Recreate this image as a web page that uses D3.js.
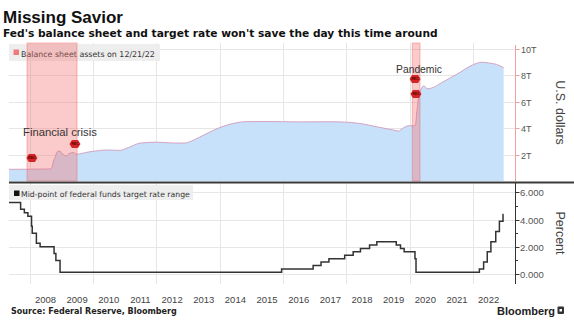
<!DOCTYPE html>
<html><head><meta charset="utf-8">
<script src="https://cdn.jsdelivr.net/npm/d3@7"></script>
<style>body{margin:0;background:#fff} svg{display:block}</style>
</head><body><svg id="c" width="574" height="331"></svg>
<script>
// ---------- DATA ----------
const balanceDates = ["2007-05-07","2008-01-02","2008-09-03","2008-09-17","2008-10-01","2008-10-22","2008-11-12","2008-12-17","2009-01-07","2009-01-21","2009-02-18","2009-03-11","2009-04-08","2009-05-20","2009-06-24","2009-08-05","2009-10-07","2009-12-30","2010-03-31","2010-06-30","2010-11-10","2011-01-05","2011-03-30","2011-06-29","2011-12-28","2012-06-27","2012-11-28","2013-01-02","2013-06-26","2013-12-25","2014-06-25","2014-10-29","2015-06-24","2016-06-29","2017-06-28","2017-10-25","2018-06-27","2018-12-26","2019-06-26","2019-08-28","2019-09-18","2019-12-25","2020-02-26","2020-03-11","2020-03-25","2020-04-08","2020-05-13","2020-06-10","2020-07-29","2020-09-30","2020-12-30","2021-06-30","2021-12-29","2022-04-13","2022-06-29","2022-09-28","2022-12-21"];
const balanceValues = [0.88,0.89,0.91,1.10,1.50,1.80,2.20,2.26,2.07,2.00,1.90,1.95,2.10,2.15,2.02,2.05,2.15,2.24,2.31,2.34,2.31,2.42,2.65,2.86,2.93,2.87,2.86,2.92,3.45,4.01,4.37,4.48,4.49,4.46,4.47,4.46,4.32,4.08,3.85,3.76,3.86,4.17,4.16,4.31,5.25,6.08,6.93,7.17,6.96,7.06,7.40,8.06,8.76,8.96,8.91,8.80,8.55];

const rateDates = ["2007-05-07","2007-09-18","2007-10-31","2007-12-11","2008-01-22","2008-01-30","2008-03-18","2008-04-30","2008-10-08","2008-10-29","2008-12-16","2015-12-16","2016-12-14","2017-03-15","2017-06-14","2017-12-13","2018-03-21","2018-06-13","2018-09-26","2018-12-19","2019-07-31","2019-09-18","2019-10-30","2020-03-03","2020-03-15","2022-03-16","2022-05-04","2022-06-15","2022-07-27","2022-09-21","2022-11-02","2022-12-14","2022-12-21"];
const rateValues = [5.25,4.75,4.50,4.25,3.50,3.00,2.25,2.00,1.50,1.00,0.125,0.375,0.625,0.875,1.125,1.375,1.625,1.875,2.125,2.375,2.125,1.875,1.625,1.125,0.125,0.375,0.875,1.625,2.375,3.125,3.875,4.375,4.375];

const recessionStarts = ["2007-12-01","2020-02-01"];
const recessionEnds = ["2009-06-30","2020-04-30"];
const recessionLabels = ["Financial crisis","Pandemic"];
const markerDates = ["2008-01-26","2009-06-06","2020-03-04","2020-03-14"];
const markerValues = [1.74,2.79,7.70,6.57];

const yearLabels = [2008,2009,2010,2011,2012,2013,2014,2015,2016,2017,2018,2019,2020,2021,2022];
const gridYears = [2008,2010,2012,2014,2016,2018,2020,2022];
const dollarTicks = [2,4,6,8,10];
const dollarTickLabels = ["2T","4T","6T","8T","10T"];
const rateTicks = [0,2,4,6];
const rateMinorTicks = [1,3,5];
const rateTickLabels = ["0.000","2.000","4.000","6.000"];

// ---------- CHART ----------
const svg = d3.select("#c");
const FONT = "'Liberation Sans', Arial, sans-serif";
const WIDE = "'DejaVu Sans', Verdana, sans-serif";
const parse = d3.utcParse("%Y-%m-%d");

const x = d3.scaleUtc().domain([parse("2007-05-07"), parse("2023-05-01")]).range([9, 515]);
const yTop = d3.scaleLinear().domain([0, 10]).range([181, 48.5]);
const yBot = d3.scaleLinear().domain([0, 6]).range([274, 192.3]);
const topY0 = 43, topY1 = 181, botY0 = 183, botY1 = 284;

function fit(sel, w) {
  const n = sel.node();
  const fs = parseFloat(sel.attr("font-size"));
  const len = n.getComputedTextLength();
  if (len > 0) sel.attr("font-size", (fs * w / len).toFixed(2));
  return sel;
}

// title
fit(svg.append("text").attr("x", 3).attr("y", 23).attr("font-family", FONT).attr("font-weight", "bold")
  .attr("font-size", 17).attr("fill", "#111").text("Missing Savior"), 120);
fit(svg.append("text").attr("x", 3).attr("y", 37).attr("font-family", WIDE).attr("font-weight", "bold")
  .attr("font-size", 11).attr("fill", "#111").text("Fed's balance sheet and target rate won't save the day this time around"), 435);

// grids
const grid = svg.append("g").attr("stroke", "#e6e6e6").attr("stroke-width", 1);
dollarTicks.forEach(v => grid.append("line").attr("x1", 9).attr("x2", 515)
  .attr("y1", Math.round(yTop(v)) + 0.5).attr("y2", Math.round(yTop(v)) + 0.5));
rateTicks.forEach(v => grid.append("line").attr("x1", 9).attr("x2", 515)
  .attr("y1", Math.round(yBot(v)) + 0.5).attr("y2", Math.round(yBot(v)) + 0.5));
gridYears.forEach(yr => {
  const gx = Math.round(x(new Date(Date.UTC(yr, 0, 1)))) + 0.5;
  grid.append("line").attr("x1", gx).attr("x2", gx).attr("y1", topY0).attr("y2", topY1);
  grid.append("line").attr("x1", gx).attr("x2", gx).attr("y1", botY0).attr("y2", botY1);
});

// balance sheet area
const bal = balanceDates.map((d, i) => ({ d: parse(d), v: balanceValues[i] }));
svg.append("path").datum(bal)
  .attr("d", d3.area().x(p => x(p.d)).y0(yTop(0)).y1(p => yTop(p.v)).curve(d3.curveMonotoneX))
  .attr("fill", "#c8e1fb");
svg.append("path").datum(bal)
  .attr("d", d3.line().x(p => x(p.d)).y(p => yTop(p.v)).curve(d3.curveMonotoneX))
  .attr("fill", "none").attr("stroke", "#d3a3c3").attr("stroke-width", 1);

// top legend
svg.append("rect").attr("x", 9).attr("y", 44).attr("width", 151).attr("height", 17).attr("fill", "#ececec").attr("opacity", 0.9);
svg.append("rect").attr("x", 13.5).attr("y", 49.5).attr("width", 5.5).attr("height", 5.5).attr("fill", "#f07a7a");
fit(svg.append("text").attr("x", 21).attr("y", 56.5).attr("font-family", WIDE).attr("font-size", 8)
  .attr("fill", "#333").text("Balance sheet assets on 12/21/22"), 134);

// recession shading
recessionStarts.forEach((s, i) => {
  const x0 = x(parse(s)), x1 = x(parse(recessionEnds[i]));
  svg.append("rect").attr("x", x0).attr("y", topY0).attr("width", x1 - x0).attr("height", topY1 - topY0)
    .attr("fill", "#f56b6b").attr("fill-opacity", 0.36)
    .attr("stroke", "#ee5a5a").attr("stroke-opacity", 0.4).attr("stroke-width", 1);
});

// recession labels
fit(svg.append("text").attr("x", 23).attr("y", 135.5).attr("font-family", FONT).attr("font-size", 11)
  .attr("fill", "#333").text(recessionLabels[0]), 74);
fit(svg.append("text").attr("x", 396).attr("y", 72.5).attr("font-family", FONT).attr("font-size", 11)
  .attr("fill", "#333").text(recessionLabels[1]), 46);

// markers
const hex = "M-5.5,0L-3,-4L3,-4L5.5,0L3,4L-3,4Z";
markerDates.forEach((d, i) => {
  const g = svg.append("g").attr("transform", `translate(${x(parse(d))},${yTop(markerValues[i])})`);
  g.append("path").attr("d", hex).attr("fill", "#d42626");
  g.append("text").attr("text-anchor", "middle").attr("y", 1.3).attr("font-family", FONT)
    .attr("font-size", 3.6).attr("font-weight", "bold").attr("fill", "#5a0000").text("REC");
});

// top right axis
svg.append("line").attr("x1", 515.5).attr("x2", 515.5).attr("y1", topY0 + 2).attr("y2", topY1).attr("stroke", "#f2a0a0");
dollarTicks.forEach((v, i) => {
  const ty = Math.round(yTop(v)) + 0.5;
  svg.append("line").attr("x1", 515.5).attr("x2", 519.5).attr("y1", ty).attr("y2", ty).attr("stroke", "#f2a0a0");
  svg.append("text").attr("x", 521).attr("y", ty).attr("dy", "0.35em").attr("font-family", FONT)
    .attr("font-size", 9).attr("fill", "#555").text(dollarTickLabels[i]);
});
svg.append("text").attr("transform", "translate(556,112.5) rotate(90)").attr("text-anchor", "middle")
  .attr("font-family", FONT).attr("font-size", 12.5).attr("fill", "#444").text("U.S. dollars");

// separator
svg.append("line").attr("x1", 9).attr("x2", 574).attr("y1", 182.5).attr("y2", 182.5).attr("stroke", "#3a3a3a").attr("stroke-width", 2);

// bottom legend
svg.append("rect").attr("x", 9).attr("y", 185).attr("width", 184).attr("height", 15).attr("fill", "#ececec").attr("opacity", 0.9);
svg.append("rect").attr("x", 14).attr("y", 190.5).attr("width", 5.5).attr("height", 5.5).attr("fill", "#111");
fit(svg.append("text").attr("x", 21).attr("y", 196.5).attr("font-family", WIDE).attr("font-size", 8)
  .attr("fill", "#333").text("Mid-point of federal funds target rate range"), 169);

// rate line
const rate = rateDates.map((d, i) => ({ d: parse(d), v: rateValues[i] }));
svg.append("path").datum(rate)
  .attr("d", d3.line().x(p => x(p.d)).y(p => yBot(p.v)).curve(d3.curveStepAfter))
  .attr("fill", "none").attr("stroke", "#333").attr("stroke-width", 1.5);

// bottom right axis
svg.append("line").attr("x1", 515.5).attr("x2", 515.5).attr("y1", botY0).attr("y2", botY1).attr("stroke", "#333");
rateTicks.forEach((v, i) => {
  const ty = Math.round(yBot(v)) + 0.5;
  svg.append("line").attr("x1", 515.5).attr("x2", 519.5).attr("y1", ty).attr("y2", ty).attr("stroke", "#333");
  svg.append("text").attr("x", 520).attr("y", ty).attr("dy", "0.35em").attr("font-family", FONT)
    .attr("font-size", 9.5).attr("fill", "#555").text(rateTickLabels[i]);
});
rateMinorTicks.forEach(v => {
  const ty = Math.round(yBot(v)) + 0.5;
  svg.append("line").attr("x1", 515.5).attr("x2", 518).attr("y1", ty).attr("y2", ty).attr("stroke", "#333");
});
svg.append("text").attr("transform", "translate(556,233) rotate(90)").attr("text-anchor", "middle")
  .attr("font-family", FONT).attr("font-size", 12.5).attr("fill", "#444").text("Percent");

// x labels
yearLabels.forEach(yr => {
  svg.append("text").attr("x", x(new Date(Date.UTC(yr, 6, 1)))).attr("y", 303).attr("text-anchor", "middle")
    .attr("font-family", FONT).attr("font-size", 9.5).attr("fill", "#444").text(yr);
});

// footer
fit(svg.append("text").attr("x", 11).attr("y", 314).attr("font-family", WIDE).attr("font-weight", "bold")
  .attr("font-size", 8).attr("fill", "#222").text("Source: Federal Reserve, Bloomberg"), 166);
fit(svg.append("text").attr("x", 497).attr("y", 314.5).attr("font-family", FONT).attr("font-weight", "bold")
  .attr("font-size", 11).attr("fill", "#222").text("Bloomberg"), 58);
svg.append("rect").attr("x", 557.5).attr("y", 306.5).attr("width", 6.5).attr("height", 7.5).attr("rx", 1).attr("fill", "#333");
svg.append("rect").attr("x", 559.5).attr("y", 309).attr("width", 2.5).attr("height", 2.5).attr("fill", "#fff");
</script></body></html>
